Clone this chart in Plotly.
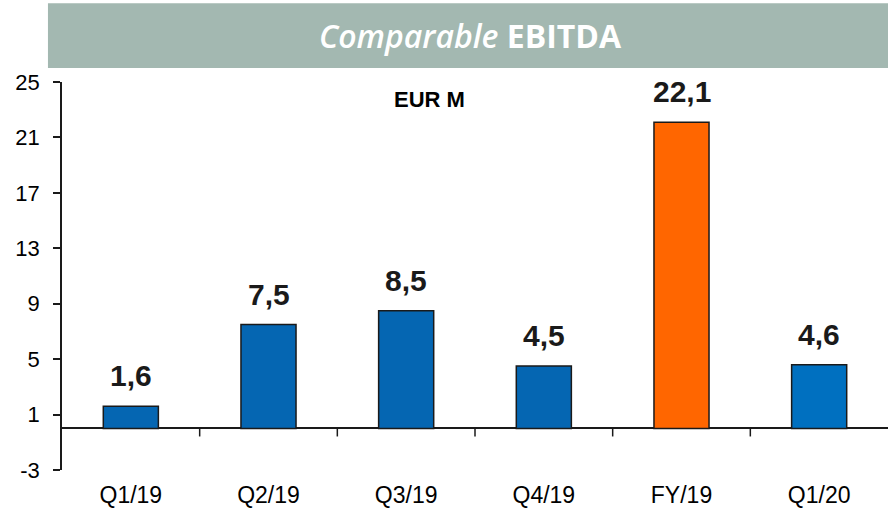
import plotly.graph_objects as go

categories = ["Q1/19", "Q2/19", "Q3/19", "Q4/19", "FY/19", "Q1/20"]
values = [1.6, 7.5, 8.5, 4.5, 22.1, 4.6]
value_labels = ["1,6", "7,5", "8,5", "4,5", "22,1", "4,6"]
bar_colors = ["#0566B2", "#0566B2", "#0566B2", "#0566B2", "#FF6600", "#0070C0"]
y_ticks = [-3, 1, 5, 9, 13, 17, 21, 25]
y_tick_labels = ["-3", "1", "5", "9", "13", "17", "21", "25"]

FONT = "Arial, Liberation Sans, sans-serif"
xs = list(range(len(categories)))

fig = go.Figure()
fig.add_trace(go.Bar(
    x=xs, y=values, width=0.4,
    marker=dict(color=bar_colors, line=dict(color="#1a1a1a", width=1.5)),
    hoverinfo="skip",
))

annotations = []
for x, v, lab in zip(xs, values, value_labels):
    annotations.append(dict(
        x=x, y=v, xref="x", yref="y", text=lab, showarrow=False,
        yanchor="bottom", yshift=12,
        font=dict(family=FONT, size=30, color="#1a1a1a", weight="bold"),
    ))
annotations.append(dict(
    x=0.4455, y=0.954, xref="paper", yref="paper", text="<b>EUR M</b>",
    showarrow=False, xanchor="center", yanchor="middle",
    font=dict(family=FONT, size=22, color="#000000"),
))
annotations.append(dict(
    x=0.495, y=1.1186, xref="paper", yref="paper",
    text="<span style='font-weight:600'><i>Comparable</i></span> <b>EBITDA</b>",
    showarrow=False, xanchor="center", yanchor="middle",
    font=dict(family="Open Sans, sans-serif", size=32, color="#FFFFFF"),
))

shapes = [dict(
    type="rect", xref="paper", yref="paper",
    x0=-0.017, x1=1.01, y0=1.036, y1=1.203,
    fillcolor="#A3B8B1", line=dict(width=0), layer="below",
)]
for i in range(len(categories) - 1):
    shapes.append(dict(
        type="line", xref="x", yref="y",
        x0=i + 0.5, x1=i + 0.5, y0=0, y1=-0.58,
        line=dict(color="#1a1a1a", width=1.5),
    ))

fig.update_layout(
    width=888, height=509,
    margin=dict(l=62, r=0, t=82, b=39),
    paper_bgcolor="white", plot_bgcolor="white",
    showlegend=False,
    annotations=annotations, shapes=shapes,
    bargap=0.6,
)
fig.update_xaxes(
    range=[-0.5, 5.5], tickmode="array", tickvals=xs, ticktext=categories,
    showline=False, showgrid=False, zeroline=False, ticks="",
    tickfont=dict(family=FONT, size=23, color="#000000"),
    ticklabelstandoff=9,
)
fig.update_yaxes(
    range=[-3, 25], tickmode="array", tickvals=y_ticks, ticktext=y_tick_labels,
    showline=True, linecolor="#1a1a1a", linewidth=1.5,
    ticks="outside", ticklen=7, tickcolor="#1a1a1a", tickwidth=1.5,
    showgrid=False, zeroline=True, zerolinecolor="#1a1a1a", zerolinewidth=1.5,
    tickfont=dict(family=FONT, size=22, color="#000000"),
    ticklabelstandoff=9,
)

fig.write_html("out.html", config={"displayModeBar": False})

with open("out.html", "r", encoding="utf-8") as f:
    html = f.read()
html = html.replace("<head>", "<head><style>html,body{margin:0;padding:0;overflow:hidden;}</style>", 1)
with open("out.html", "w", encoding="utf-8") as f:
    f.write(html)
